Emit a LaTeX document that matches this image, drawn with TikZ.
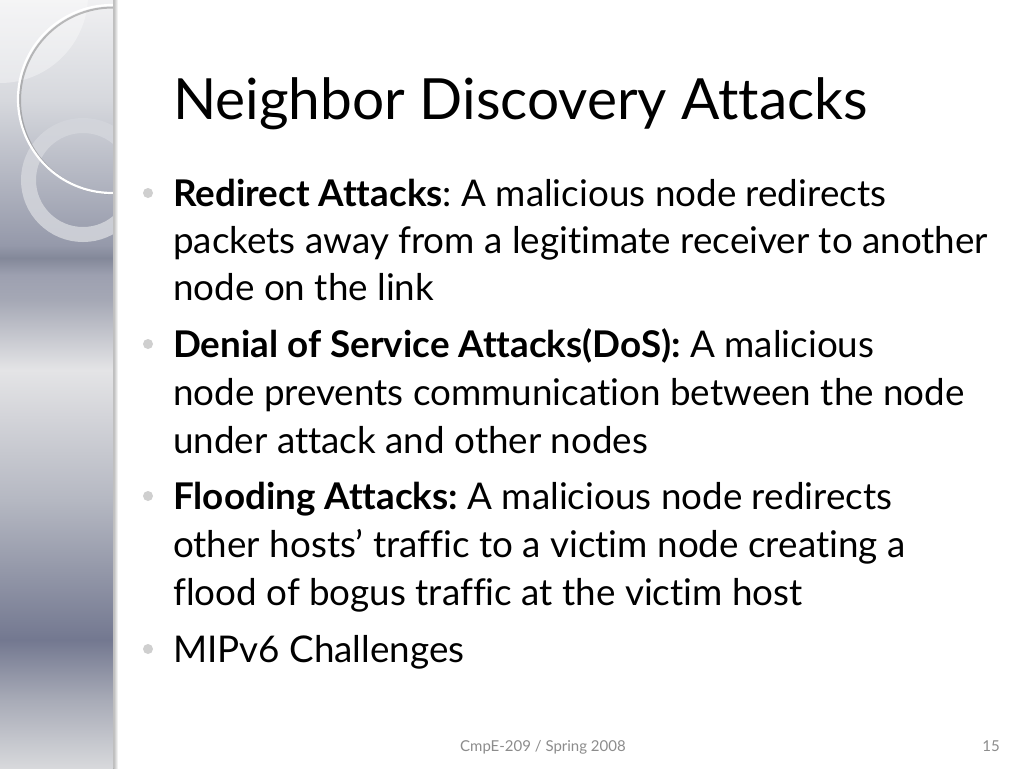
\documentclass[tikz,border=0pt]{standalone}
\usepackage{fontspec}
\setmainfont{Lato}[Ligatures=NoCommon]
\usetikzlibrary{calc}
\frenchspacing
\definecolor{bulletgray}{HTML}{CFCFCF}
\definecolor{footgray}{HTML}{8C8C8C}
\definecolor{sa}{HTML}{F0F0F2}
\definecolor{sb}{HTML}{D6D8DD}
\definecolor{sc}{HTML}{9599AA}
\definecolor{sd}{HTML}{838899}
\definecolor{se}{HTML}{9DA0B0}
\definecolor{sf}{HTML}{A5A8B5}
\definecolor{sg}{HTML}{E4E4E6}
\definecolor{sh}{HTML}{B5B8C2}
\definecolor{si}{HTML}{737890}
\definecolor{sj}{HTML}{A8ABB7}
\definecolor{sk}{HTML}{D8D9DC}
\definecolor{ringcol}{HTML}{D4D6DC}
\tikzset{
  bodyline/.style={anchor=base west, inner sep=0pt, font=\fontsize{36.8}{44}\selectfont},
  titletext/.style={anchor=base west, inner sep=0pt, font=\fontsize{56.8}{64}\selectfont},
  bulletdot/.style={circle, fill=bulletgray, inner sep=0pt, minimum size=10pt},
  foottext/.style={inner sep=0pt, text=footgray, font=\fontsize{15}{18}\selectfont},
}
\begin{document}
\begin{tikzpicture}[x=1pt,y=-1pt]
\useasboundingbox (0,0) rectangle (1024,768);
\fill[white] (0,0) rectangle (1024,768);
% sidebar gradient
\shade[top color=sa, bottom color=sb] (0,0) rectangle (113,100);
\shade[top color=sb, bottom color=sc] (0,100) rectangle (113,245);
\shade[top color=sc, bottom color=sd] (0,245) rectangle (113,258);
\shade[top color=sd, bottom color=se] (0,258) rectangle (113,275);
\shade[top color=se, bottom color=sf] (0,275) rectangle (113,300);
\shade[top color=sf, bottom color=sg] (0,300) rectangle (113,370);
\shade[top color=sg, bottom color=sh] (0,370) rectangle (113,500);
\shade[top color=sh, bottom color=si] (0,500) rectangle (113,640);
\shade[top color=si, bottom color=sj] (0,640) rectangle (113,700);
\shade[top color=sj, bottom color=sk] (0,700) rectangle (113,768.5);
\begin{scope}
  \clip (0,0) rectangle (113,768);
  \fill[white, opacity=0.35] (0,-5) circle[radius=88];
  \draw[ringcol, opacity=0.85, line width=15pt] (83,180) circle[radius=54.5];
  \draw[gray, opacity=0.5, line width=2pt] (113,100.5) circle[radius=93];
  \draw[white, line width=2.2pt] (112,99) circle[radius=94];
\end{scope}
% sidebar edge shadow
\shade[left color=black!30, right color=white] (113,0) rectangle (118,768);
\draw[black!25, line width=0.8pt] (113,0) -- (113,768);
% title
\node[titletext] (title) at (173,119) {Neighbor Discovery Attacks};
% bullets
\node[bulletdot] (b1) at (148,193) {};
\node[bulletdot] (b2) at (148,344) {};
\node[bulletdot] (b3) at (148,496) {};
\node[bulletdot] (b4) at (148,649) {};
% body
\node[bodyline] (l1) at (173,206) {\textbf{Redirect Attacks}: A malicious node redirects};
\node[bodyline] (l2) at (173,253) {packets away from a legitimate receiver to another};
\node[bodyline] (l3) at (173,300) {node on the link};
\node[bodyline] (l4) at (173,357) {\textbf{Denial of Service Attacks(DoS):} A malicious};
\node[bodyline] (l5) at (173,405) {node prevents communication between the node};
\node[bodyline] (l6) at (173,453) {under attack and other nodes};
\node[bodyline] (l7) at (173,509) {\textbf{Flooding Attacks:} A malicious node redirects};
\node[bodyline] (l8) at (173,557) {other hosts’ traffic to a victim node creating a};
\node[bodyline] (l9) at (173,605) {flood of bogus traffic at the victim host};
\node[bodyline] (l10) at (173,662) {MIPv6 Challenges};
% footer
\node[foottext, anchor=base west] (foot) at (460,751) {CmpE-209 / Spring 2008};
\node[foottext, anchor=base east] (page) at (1000,751) {15};
\end{tikzpicture}
\end{document}
